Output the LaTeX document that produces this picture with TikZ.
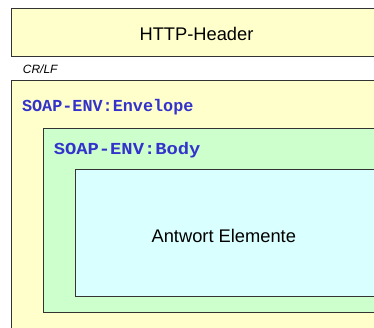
\documentclass[tikz,border=0pt]{standalone}
\usepackage{fontspec}
\setmainfont{Liberation Sans}
\newfontfamily\monobold{Liberation Mono}[BoldFont={Liberation Mono Bold}]
\usepackage{tikz}
\usetikzlibrary{positioning}
\definecolor{hdrgelb}{HTML}{FFFFCC}
\definecolor{bodygruen}{HTML}{CCFFCC}
\definecolor{inhalttuerkis}{HTML}{D9FFFF}
\definecolor{soapblau}{HTML}{3333CC}

\begin{document}
\begin{tikzpicture}[x=1pt, y=-1pt, line width=1.1pt]
                    \useasboundingbox (0,0) rectangle (374,327);
                    \fill[white] (0,0) rectangle (374,327);
                    \clip (0,0) rectangle (374,327);
                    \filldraw[fill=hdrgelb, draw=black!80] (11.7,8.7) rectangle (380,56.7);
                    \filldraw[fill=hdrgelb, draw=black!80] (11.7,80.7) rectangle (380,335);
                    \filldraw[fill=bodygruen, draw=black!80] (43.3,128.7) rectangle (380,312.7);
                    \filldraw[fill=inhalttuerkis, draw=black!80] (75.7,169.3) rectangle (380,296.7);
                    \node[anchor=base, inner sep=0pt, font=\fontsize{18.3}{20}\selectfont] (header) at (196.5,40.7) {HTTP-Header};
                    \node[anchor=base west, inner sep=0pt, font=\fontsize{12}{14}\selectfont\itshape] (crlf) at (22.3,73) {CR/LF};
                    \node[anchor=base west, inner sep=0pt, text=soapblau, font=\fontsize{16.8}{18}\selectfont\monobold\bfseries] (envelope) at (21.5,111) {SOAP-ENV:Envelope};
                    \node[anchor=base west, inner sep=0pt, text=soapblau, font=\fontsize{16.8}{18}\selectfont\monobold\bfseries] (body) at (53.2,154.7) {\scalebox{1.12}[1]{SOAP-ENV:Body}};
                    \node[anchor=base, inner sep=0pt, font=\fontsize{18.3}{20}\selectfont] (antwort) at (223.8,242.3) {Antwort Elemente};
                \end{tikzpicture}
\end{document}
